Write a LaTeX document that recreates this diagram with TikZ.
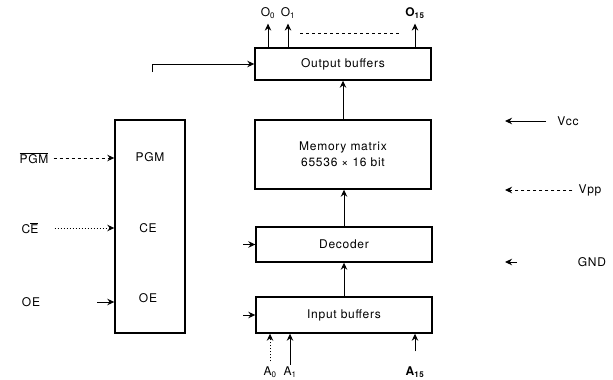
\documentclass[tikz,border=0pt]{standalone}
\usepackage{fontspec}
\setmainfont{TeX Gyre Heros}[LetterSpace=6]
\usetikzlibrary{arrows.meta,positioning,calc}

\begin{document}
\begin{tikzpicture}[x=1pt, y=-1pt,
    blk/.style={draw, line width=1.4pt, minimum width=176pt, inner sep=0pt,
      align=center, font=\fontsize{12}{16}\selectfont},
    lb/.style={font=\fontsize{12}{14}\selectfont, inner sep=1pt},
    ar/.style={-{Stealth[length=7pt,width=6.5pt]}, line width=1pt},
  ]
  \fill[white] (0,0) rectangle (613,380);
  \useasboundingbox (0,0) rectangle (613,380);

  % main blocks
  \node[blk, minimum height=32pt] (ob) at (343,64) {Output buffers};
  \node[blk, minimum height=69pt] (mm) at (343,154.5) {Memory matrix\\65536 × 16 bit};
  \node[blk, minimum height=35pt] (dec) at (344,244.5) {Decoder};
  \node[blk, minimum height=36pt] (ib) at (344,315) {Input buffers};
  \node[blk, minimum width=70pt, minimum height=213pt] (ctl) at (150,226.5) {};
  \node[lb] (pgm) at (150,157) {PGM};
  \node[lb] (ce) at (148,228) {CE};
  \node[lb] (oe) at (148,298) {OE};

  % control inputs
  \node[lb] (npgm) at (34,158) {$\overline{\mbox{PGM}}$};
  \node[lb] (nce) at (30,228) {C$\overline{\mbox{E}}$};
  \node[lb] (noe) at (31,302) {OE};
  \draw[ar, dashed, shorten <=4pt] (npgm.east) -- (npgm.east -| ctl.west);
  \draw[ar, dotted, shorten <=15pt] (nce.east) -- (nce.east -| ctl.west);
  \draw[ar, shorten <=56pt] (noe.east) -- (noe.east -| ctl.west);

  % supply pins
  \node[lb] (vcc) at (568,121) {Vcc};
  \node[lb] (vpp) at (590,190) {Vpp};
  \node[lb] (gnd) at (592,262) {GND};
  \coordinate (vcct) at (505,121);
  \coordinate (vppt) at (505,190);
  \coordinate (gnds) at (517,262);
  \coordinate (gndt) at (505,262);
  \draw[ar, shorten <=10pt] (vcc.west) -- (vcct);
  \draw[ar, dashed, shorten <=5pt] (vpp.west) -- (vppt);
  \draw[ar] (gnds) -- (gndt);

  % data path
  \draw[ar] (mm) -- (ob);
  \draw[ar] (dec.north) -- (dec.north |- mm.south);
  \draw[ar] (ib) -- (dec);

  % outputs
  \node[lb] (o0) at (268,13) {O\textsubscript{0}};
  \node[lb] (o1) at (288,13) {O\textsubscript{1}};
  \node[lb] (o15) at (415,13) {\textbf{O\textsubscript{15}}};
  \foreach \n in {o0,o1,o15}
    \draw[ar, shorten >=4pt] (\n |- ob.north) -- (\n.south);
  \coordinate (dl) at (300,33);
  \coordinate (dr) at (400,33);
  \draw[dashed, line width=0.8pt] (dl) -- (dr);

  % address inputs
  \node[lb] (a0) at (270,372) {A\textsubscript{0}};
  \node[lb] (a1) at (290,372) {A\textsubscript{1}};
  \node[lb] (a15) at (415,372) {\textbf{A\textsubscript{15}}};
  \draw[ar, dotted, shorten <=4pt] (a0.north) -- (a0 |- ib.south);
  \draw[ar, shorten <=1pt] (a1.north) -- (a1 |- ib.south);
  \draw[ar, shorten <=14pt] (a15.north) -- (a15 |- ib.south);

  % stubs from control
  \coordinate (ct) at (152,72);
  \coordinate (ds) at (243,244.5);
  \coordinate (is) at (243,315);
  \draw[ar] (ct) |- (ob.west);
  \draw[ar] (ds) -- (dec.west);
  \draw[ar] (is) -- (ib.west);
\end{tikzpicture}
\end{document}
